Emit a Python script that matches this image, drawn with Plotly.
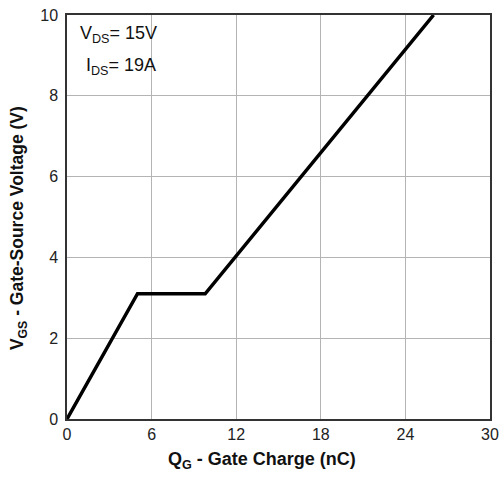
import plotly.graph_objects as go

qg = [0, 5.0, 9.8, 26.0]
vgs = [0, 3.1, 3.1, 10.0]
x_ticks = [0, 6, 12, 18, 24, 30]
y_ticks = [0, 2, 4, 6, 8, 10]

FONT = "Liberation Sans, Arial, sans-serif"

fig = go.Figure()
fig.add_trace(go.Scatter(x=qg, y=vgs, mode="lines",
                         line=dict(color="black", width=3.5),
                         showlegend=False))

fig.update_layout(
    width=501, height=480,
    margin=dict(l=67, r=11, t=15, b=61, autoexpand=False),
    paper_bgcolor="white", plot_bgcolor="white",
    font=dict(family=FONT, color="#222"),
    xaxis=dict(range=[0, 30], tickvals=x_ticks, showgrid=True,
               gridcolor="#b4b4b4", gridwidth=1, zeroline=False,
               showline=True, linecolor="#333", linewidth=1.5, mirror=True,
               ticks="", automargin=False,
               tickfont=dict(size=16, family=FONT, color="#222")),
    yaxis=dict(range=[0, 10], tickvals=y_ticks, showgrid=True,
               gridcolor="#b4b4b4", gridwidth=1, zeroline=False,
               showline=True, linecolor="#333", linewidth=1.5, mirror=True,
               ticks="", ticklabelstandoff=4, automargin=False,
               tickfont=dict(size=16, family=FONT, color="#222")),
    annotations=[
        dict(text="<b>Q<sub>G</sub> - Gate Charge (nC)</b>", xref="paper", yref="paper",
             x=0.46, y=-0.07, xanchor="center", yanchor="top", showarrow=False,
             font=dict(size=18, family=FONT, color="#111")),
        dict(text="<b>V<sub>GS</sub> - Gate-Source Voltage (V)</b>", xref="paper", yref="paper",
             x=-0.113, y=0.473, xanchor="center", yanchor="middle", showarrow=False,
             textangle=-90, font=dict(size=17.5, family=FONT, color="#111")),
        dict(text="V<sub>DS</sub>= 15V", xref="paper", yref="paper",
             x=0.025, y=0.985, xanchor="left", yanchor="top", showarrow=False,
             font=dict(size=18, family=FONT, color="#111")),
        dict(text="I<sub>DS</sub>= 19A", xref="paper", yref="paper",
             x=0.04, y=0.905, xanchor="left", yanchor="top", showarrow=False,
             font=dict(size=18, family=FONT, color="#111")),
    ],
)

fig.write_html("out.html")
